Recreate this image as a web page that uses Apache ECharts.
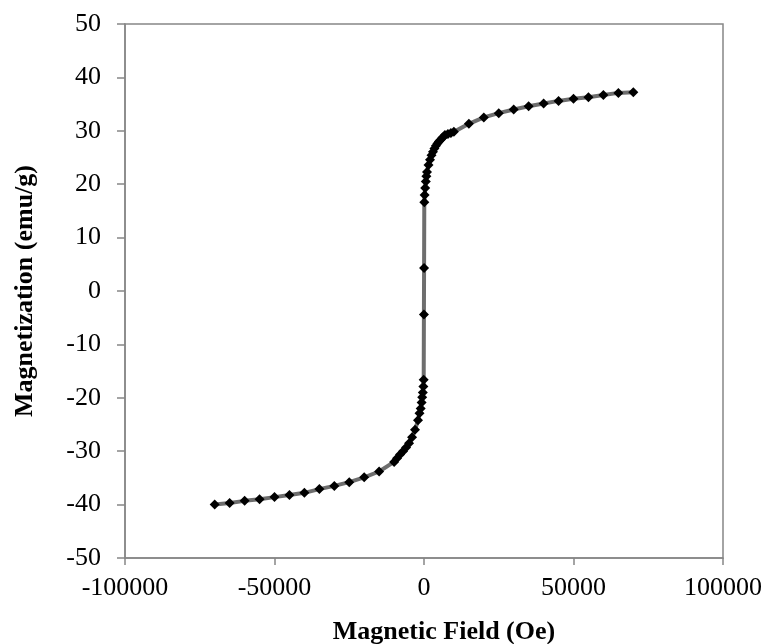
<!DOCTYPE html>
<html>
<head>
<meta charset="utf-8">
<script src="https://cdn.jsdelivr.net/npm/echarts@6/dist/echarts.min.js"></script>
<style>
html,body{margin:0;padding:0;background:#fff;}
#main{width:768px;height:644px;}
</style>
</head>
<body>
<div id="main"></div>
<script>
// field (Oe) and magnetization (emu/g)
var fieldOe = [
  -70000,-65000,-60000,-55000,-50000,-45000,-40000,-35000,-30000,-25000,-20000,-15000,
  -10000,-9000,-8000,-7000,-6000,-5000,-4000,-3000,-2000,-1500,-1100,-800,-600,-400,-200,-100,
  -30,30,
  100,200,400,600,800,1000,1500,2000,2500,3000,3500,4000,4500,5000,5500,6000,6500,7000,8000,9000,
  10000,15000,20000,25000,30000,35000,40000,45000,50000,55000,60000,65000,70000
];
var magnetization = [
  -40.0,-39.7,-39.3,-39.0,-38.6,-38.2,-37.8,-37.1,-36.5,-35.8,-34.9,-33.8,
  -32.0,-31.3,-30.6,-30.0,-29.3,-28.5,-27.4,-26.0,-24.2,-22.9,-22.0,-20.9,-19.9,-19.0,-17.9,-16.6,
  -4.4,4.3,
  16.6,18.0,19.3,20.5,21.5,22.3,23.6,24.6,25.4,26.1,26.7,27.2,27.6,28.0,28.3,28.6,28.9,29.2,29.4,29.6,
  29.8,31.3,32.5,33.3,34.0,34.6,35.1,35.6,36.0,36.3,36.7,37.1,37.2
];
var xTicks = [-100000, 100000, 50000];   // min, max, interval
var yTicks = [-50, 50, 10];

var points = [];
for (var i = 0; i < fieldOe.length; i++) {
  points.push([fieldOe[i], magnetization[i]]);
}

var font = '"Liberation Serif", "DejaVu Serif", serif';
var axisGray = '#878787';

var chart = echarts.init(document.getElementById('main'));
chart.setOption({
  animation: false,
  grid: {
    left: 125, top: 24, right: 45, bottom: 86,
    containLabel: false, outerBoundsMode: 'none',
    show: true, borderColor: axisGray, borderWidth: 1.5
  },
  xAxis: {
    type: 'value',
    min: xTicks[0], max: xTicks[1], interval: xTicks[2],
    name: 'Magnetic Field (Oe)',
    nameLocation: 'middle',
    nameGap: 61,
    nameTextStyle: { fontFamily: font, fontSize: 26, fontWeight: 'bold', color: '#000', padding: [0, 0, 0, 40] },
    axisLine: { onZero: false, lineStyle: { color: axisGray, width: 1.5 } },
    axisTick: { show: true, inside: false, length: 7, lineStyle: { color: axisGray, width: 1.5 } },
    axisLabel: { fontFamily: font, fontSize: 26, color: '#000', margin: 17, formatter: function (v) { return String(v); } },
    splitLine: { show: false }
  },
  yAxis: {
    type: 'value',
    min: yTicks[0], max: yTicks[1], interval: yTicks[2],
    name: 'Magnetization (emu/g)',
    nameLocation: 'middle',
    nameGap: 87,
    nameTextStyle: { fontFamily: font, fontSize: 26, fontWeight: 'bold', color: '#000' },
    axisLine: { show: true, onZero: false, lineStyle: { color: axisGray, width: 1.5 } },
    axisTick: { show: true, inside: false, length: 8, lineStyle: { color: axisGray, width: 1.5 } },
    axisLabel: { fontFamily: font, fontSize: 26, color: '#000', margin: 24, formatter: function (v) { return String(v); } },
    splitLine: { show: false }
  },
  series: [{
    type: 'line',
    data: points,
    symbol: 'diamond',
    symbolSize: 10,
    showAllSymbol: true,
    itemStyle: { color: '#000' },
    lineStyle: { color: '#6e6e6e', width: 4 },
    smooth: false
  }]
});
</script>
</body>
</html>
